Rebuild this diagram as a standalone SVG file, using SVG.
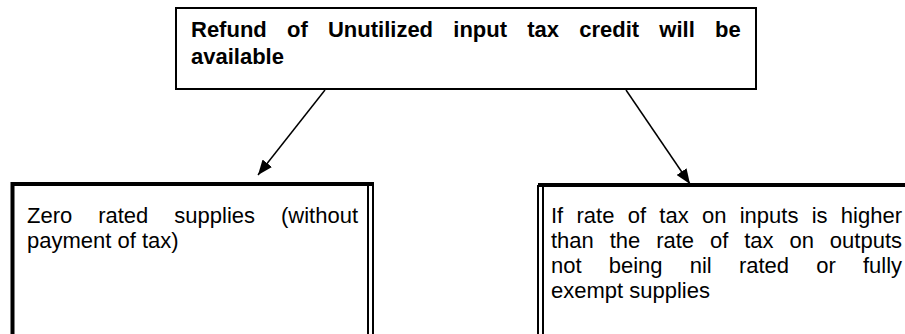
<svg xmlns="http://www.w3.org/2000/svg" width="905" height="334" viewBox="0 0 905 334">
<defs>
<style>
.t{font-family:"Liberation Sans",Arial,sans-serif;font-size:22px;fill:#000}
.b{font-weight:bold}
.ln{stroke:#000;fill:none}
</style>
<marker id="ah" markerUnits="userSpaceOnUse" markerWidth="16" markerHeight="12" refX="15" refY="6" orient="auto">
<path d="M0,0 L15,6 L0,12 Z" fill="#000"/>
</marker>
</defs>
<rect width="905" height="334" fill="#fff"/>
<g id="top">
<rect class="ln" x="176" y="8" width="580" height="81" stroke-width="2"/>
<text class="t b" x="191" y="37" word-spacing="14.1">Refund of Unutilized input tax credit will be</text>
<text class="t b" x="191" y="64">available</text>
</g>
<g id="left">
<path class="ln" d="M12.5,340 V184 H374" stroke-width="4"/>
<path class="ln" d="M368,185 V340 M373,185 V340" stroke-width="2"/>
<text class="t" x="27" y="223" word-spacing="19.85">Zero rated supplies (without</text>
<text class="t" x="27" y="248">payment of tax)</text>
</g>
<g id="right">
<path class="ln" d="M538,185 H905" stroke-width="4"/>
<path class="ln" d="M538,185 V340 M543,185 V340" stroke-width="2"/>
<text class="t" x="551" y="223" word-spacing="7.17">If rate of tax on inputs is higher</text>
<text class="t" x="551" y="248" word-spacing="9.78">than the rate of tax on outputs</text>
<text class="t" x="551" y="273" word-spacing="21.04">not being nil rated or fully</text>
<text class="t" x="551" y="298">exempt supplies</text>
</g>
<g id="connectors">
<line class="ln" x1="325" y1="90" x2="258" y2="175" stroke-width="1.5" marker-end="url(#ah)"/>
<line class="ln" x1="626" y1="90" x2="690" y2="184" stroke-width="1.5" marker-end="url(#ah)"/>
</g>
</svg>
